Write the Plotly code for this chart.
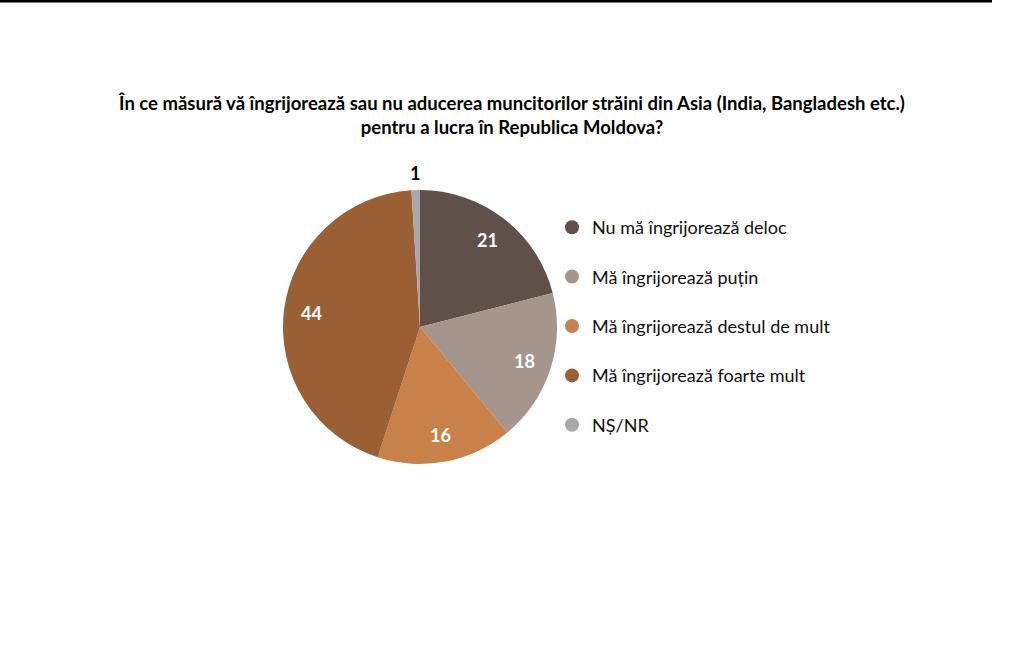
import math
import plotly.graph_objects as go

labels = ["Nu mă îngrijorează deloc",
          "Mă îngrijorează puțin",
          "Mă îngrijorează destul de mult",
          "Mă îngrijorează foarte mult",
          "NȘ/NR"]
values = [21, 18, 16, 44, 1]
colors = ["#5F5049", "#A5958D", "#C88249", "#9A6034", "#A8A8A8"]
label_colors = ["white", "white", "white", "white", "black"]

title = ("În ce măsură vă îngrijorează sau nu aducerea muncitorilor străini din Asia (India, Bangladesh etc.)"
         "<br>pentru a lucra în Republica Moldova?")

font = "Lato"
W, H = 1024, 647

# pie placement (pixels)
cx_px, cy_px, R = 420, 327, 137
dom_x = [(cx_px - R) / W, (cx_px + R) / W]
dom_y = [(H - cy_px - R) / H, (H - cy_px + R) / H]

fig = go.Figure()

fig.add_trace(go.Pie(
    labels=labels,
    values=values,
    sort=False,
    direction="clockwise",
    rotation=0,
    marker=dict(colors=colors, line=dict(width=0)),
    textinfo="none",
    domain=dict(x=dom_x, y=dom_y),
    showlegend=False,
    hoverinfo="label+value",
))

# value labels: inside ones near the rim (Excel style), the tiny slice outside
total = sum(values)
annotations = []
cum = 0
for v, c in zip(values, label_colors):
    mid = (cum + v / 2) / total * 2 * math.pi
    cum += v
    r = 0.8 * R if c == "white" else R + 17
    annotations.append(dict(
        x=(cx_px + r * math.sin(mid)) / W,
        y=(H - cy_px + r * math.cos(mid)) / H,
        xref="paper", yref="paper", showarrow=False,
        xanchor="center", yanchor="middle",
        text=str(v),
        font=dict(size=18, family=font, color=c, weight="bold"),
    ))

# circle markers for the legend, like the original
for i, lab in enumerate(labels):
    fig.add_trace(go.Scatter(
        x=[None], y=[None], mode="markers", name=lab,
        legendgroup=str(i),
        marker=dict(color=colors[i], size=14, symbol="circle"),
    ))

fig.update_layout(
    width=W, height=H,
    margin=dict(l=0, r=0, t=0, b=0),
    paper_bgcolor="white",
    plot_bgcolor="white",
    font=dict(family=font, color="black"),
    title=dict(text=title, x=0.5, xanchor="center",
               y=1 - 110 / H, yanchor="top",
               font=dict(size=18.5, family=font, weight="bold", color="black")),
    xaxis=dict(visible=False),
    yaxis=dict(visible=False),
    legend=dict(x=552 / W, y=1 - 209 / H, xanchor="left", yanchor="top",
                bgcolor="rgba(0,0,0,0)",
                font=dict(size=18, family=font, color="#111111"),
                tracegroupgap=23, itemsizing="trace"),
    annotations=annotations,
    shapes=[dict(type="line", xref="paper", yref="paper",
                 x0=0, x1=992 / W, y0=1 - 1 / H, y1=1 - 1 / H,
                 line=dict(color="black", width=3))],
)

fig.write_html("out.html", config={"displayModeBar": False},
               post_script="document.body.style.margin='0';")
